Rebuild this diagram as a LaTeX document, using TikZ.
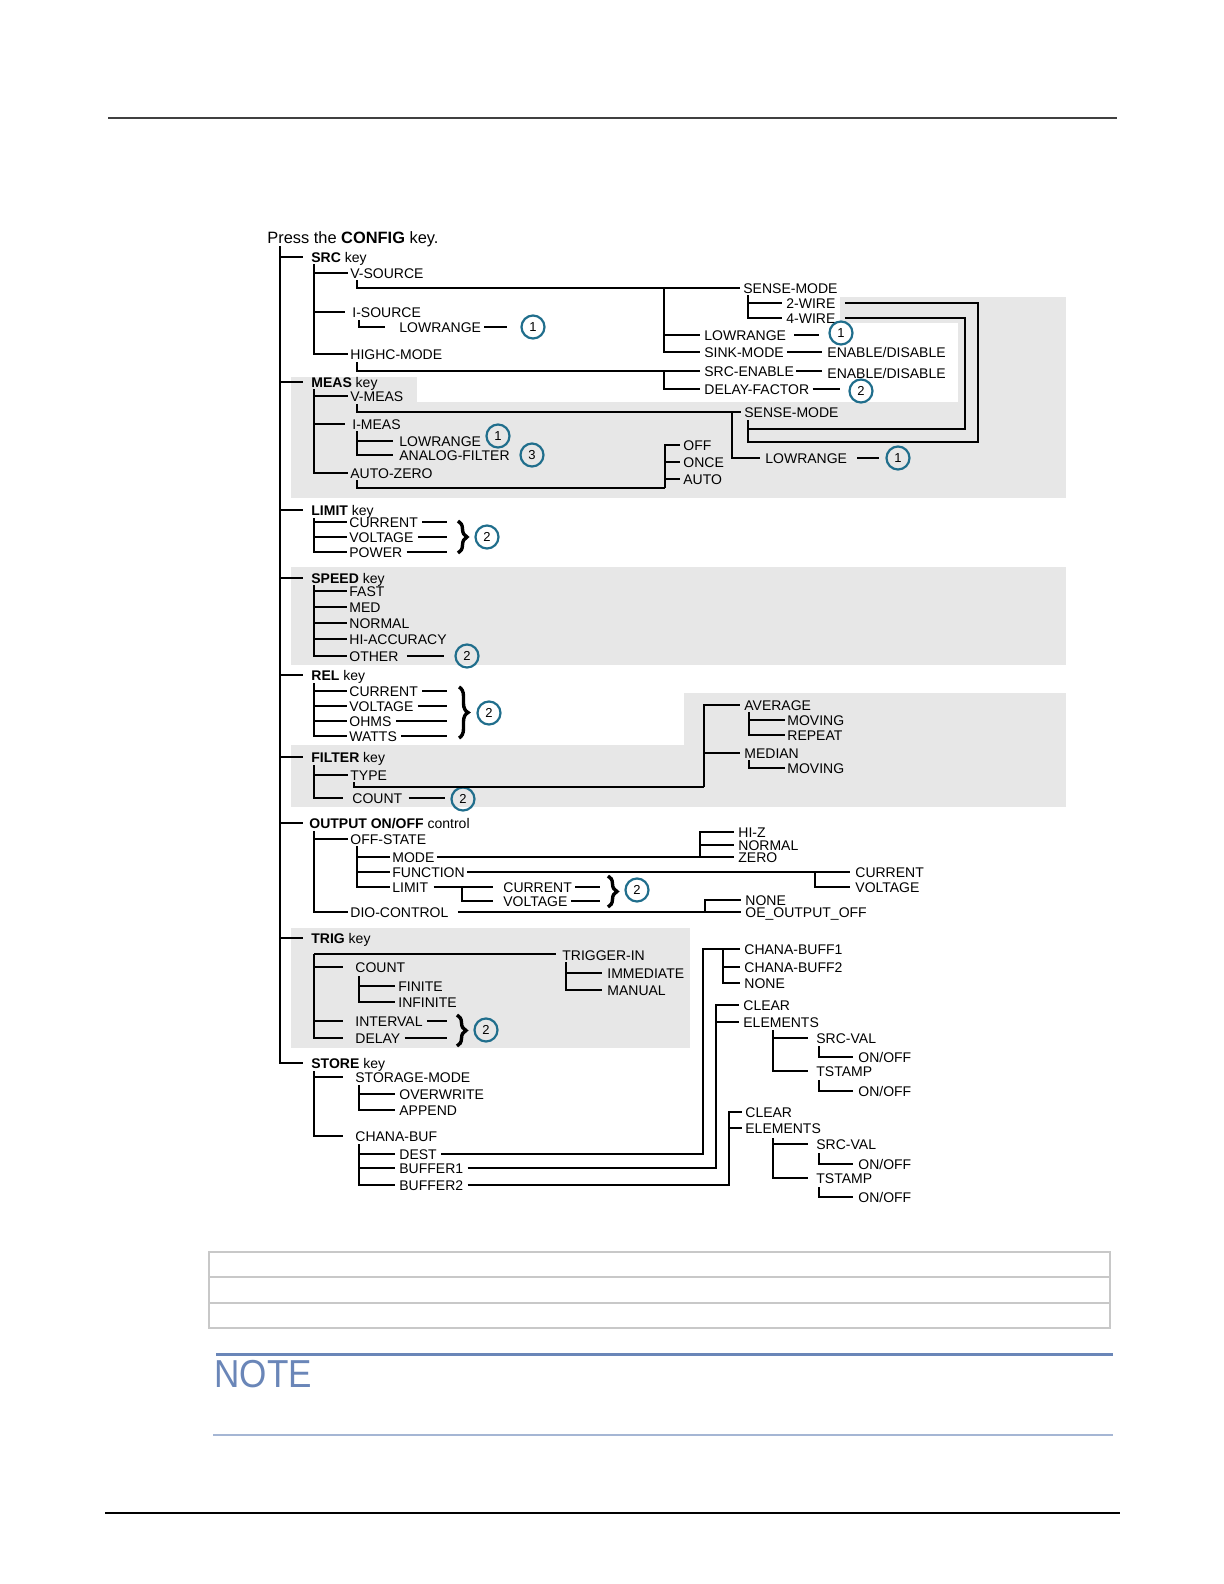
\documentclass[tikz,border=0pt]{standalone}
\usepackage{fontspec}
\setmainfont{Liberation Sans}
\usepackage{tikz}
\usetikzlibrary{calc}
\usetikzlibrary{decorations.pathreplacing}
\usetikzlibrary{positioning}

\definecolor{panelgray}{RGB}{231,231,231}
\definecolor{numblue}{RGB}{32,110,140}
\definecolor{noteblue}{RGB}{106,134,184}
\definecolor{rulegray}{RGB}{200,200,200}
\newcommand{\lbsize}{\fontsize{7}{8}\selectfont}

\begin{document}
\begin{tikzpicture}[x=0.5pt, y=-0.5pt,
  lbl/.style={anchor=west, inner sep=0pt, font=\lbsize, text height=5pt, text depth=0pt},
  num/.style={circle, draw=numblue, line width=1.1pt, minimum size=11.5pt, inner sep=0pt, font=\fontsize{6.5}{6.5}\selectfont},
  tree/.style={line width=0.7pt},
  br/.style={tree, shorten >=#1}, br/.default=1pt,
  gapln/.style 2 args={tree, shorten <=#1, shorten >=#2},
  thk/.style={line width=1pt},
  brc/.style={line width=1.7pt, decorate, decoration={brace, amplitude=4.5pt}}]
\useasboundingbox (0,0) rectangle (1224,1584);

%panels
\fill[panelgray] (291,377) rectangle (1066,498);
\fill[panelgray] (840,297) rectangle (1066,377);
\fill[white] (417,323) rectangle (958,402);
\fill[panelgray] (291,567) rectangle (1066,665);
\fill[panelgray] (291,745) rectangle (1066,807);
\fill[panelgray] (684,693) rectangle (1066,745);
\fill[panelgray] (291,928) rectangle (690,1048);

%page rules, table, note
\draw[line width=0.7pt, black!75] (108,118) -- (1117,118);
\draw[line width=1pt] (105,1513) -- (1120,1513);
\draw[rulegray, line width=0.8pt] (209,1252) rectangle (1110,1328);
\draw[rulegray, line width=0.8pt] (209,1277) -- (1110,1277);
\draw[rulegray, line width=0.8pt] (209,1303) -- (1110,1303);
\draw[noteblue, line width=1.5pt] (216,1354) -- (1113,1354);
\draw[noteblue!60, line width=0.7pt] (213,1435) -- (1113,1435);
\node[anchor=west, inner sep=0pt, text=noteblue, font=\fontsize{19.5}{20}\selectfont] (note) at (214,1374) {\scalebox{0.9}[1]{NOTE}};

%root
\node[lbl, font=\fontsize{8.2}{9}\selectfont, text height=5.9pt] (config) at (267,238) {Press the \textbf{CONFIG} key.};
\node[lbl] (srckey) at (311,257) {\textbf{SRC} key};
\node[lbl] (measkey) at (311,382) {\textbf{MEAS} key};
\node[lbl] (limkey) at (311,510) {\textbf{LIMIT} key};
\node[lbl] (spdkey) at (311,578) {\textbf{SPEED} key};
\node[lbl] (relkey) at (311,675) {\textbf{REL} key};
\node[lbl] (filkey) at (311,757) {\textbf{FILTER} key};
\node[lbl] (outkey) at (309,823) {\textbf{OUTPUT ON/OFF} control};
\node[lbl] (trigkey) at (311,938) {\textbf{TRIG} key};
\node[lbl] (storekey) at (311,1063) {\textbf{STORE} key};
\coordinate (root) at (280,246);
\foreach \k/\g in {srckey/4pt, measkey/4pt, limkey/4pt, spdkey/4pt, relkey/4pt, filkey/4pt, outkey/3pt, trigkey/4pt, storekey/4pt}
  \draw[br=\g] (root) |- (\k.west);

%SRC
\node[lbl] (vsrc) at (350,273) {V-SOURCE};
\node[lbl] (isrc) at (352,312) {I-SOURCE};
\node[lbl] (srclow) at (399,327) {LOWRANGE};
\node[num] (nsrclow) at (533,327) {1};
\node[lbl] (highc) at (350,354) {HIGHC-MODE};
\node[lbl] (vsense) at (743,288) {SENSE-MODE};
\node[lbl] (twow) at (786,303) {2-WIRE};
\node[lbl] (fourw) at (786,318) {4-WIRE};
\node[lbl] (vlow) at (704,335) {LOWRANGE};
\node[num] (nvlow) at (841,333) {1};
\node[lbl] (sink) at (704,352) {SINK-MODE};
\node[lbl] (sinkena) at (827,352) {ENABLE/DISABLE};
\node[lbl] (srcen) at (704,371) {SRC-ENABLE};
\node[lbl] (srcena) at (827,373) {ENABLE/DISABLE};
\node[lbl] (delay) at (704,389) {DELAY-FACTOR};
\node[num] (ndelay) at (861,391) {2};

\coordinate (tsrc) at (314,264);
\foreach \c/\g in {vsrc/1pt, isrc/3.5pt, highc/1pt}
  \draw[br=\g] (tsrc) |- (\c.west);
\coordinate (tisrc) at (359,320);
\draw[br=7pt] (tisrc) |- (srclow.west);
\draw[gapln={1.5pt}{6.5pt}] (srclow.east) -- (srclow.east -| nsrclow.west);
\coordinate (tvsrc) at (357,280);
\draw[br=1.5pt] (tvsrc) |- (vsense.west);
\coordinate (jvs) at (664,288);
\foreach \c in {vlow, sink}
  \draw[br=2pt] (jvs) |- (\c.west);
\coordinate (tvsense) at (748,295);
\foreach \c in {twow, fourw}
  \draw[br=2pt] (tvsense) |- (\c.west);
\draw[gapln={4pt}{4.5pt}] (vlow.east) -- (vlow.east -| nvlow.west);
\draw[gapln={1.5pt}{2.5pt}] (sink.east) -- (sinkena.west);
\coordinate (thighc) at (357,362);
\draw[br=2pt] (thighc) |- (srcen.west);
\coordinate (jhc) at (664,371);
\draw[br=2pt] (jhc) |- (delay.west);
\draw[gapln={1pt}{2.5pt}] (srcen.east) -- (srcen.east -| srcena.west);
\draw[gapln={1.5pt}{4pt}] (delay.east) -- (delay.east -| ndelay.west);

%MEAS
\node[lbl] (vmeas) at (350,396) {V-MEAS};
\node[lbl] (imeas) at (352,424) {I-MEAS};
\node[lbl] (ilow) at (399,441) {LOWRANGE};
\node[num] (nilow) at (498,436) {1};
\node[lbl] (afilt) at (399,455) {ANALOG-FILTER};
\node[num] (nafilt) at (532,455) {3};
\node[lbl] (autoz) at (350,473) {AUTO-ZERO};
\node[lbl] (msense) at (744,412) {SENSE-MODE};
\node[lbl] (mlow) at (765,458) {LOWRANGE};
\node[num] (nmlow) at (898,458) {1};
\node[lbl] (azoff) at (683,445) {OFF};
\node[lbl] (azonce) at (683,462) {ONCE};
\node[lbl] (azauto) at (683,479) {AUTO};

\coordinate (tmeas) at (314,389);
\foreach \c/\g in {vmeas/1pt, imeas/3.5pt, autoz/1pt}
  \draw[br=\g] (tmeas) |- (\c.west);
\coordinate (tvmeas) at (357,404);
\draw[br=1.5pt] (tvmeas) |- (msense.west);
\coordinate (jms) at (732,412);
\draw[br=2.5pt] (jms) |- (mlow.west);
\draw[gapln={5pt}{3pt}] (mlow.east) -- (mlow.east -| nmlow.west);
\coordinate (timeas) at (357,431);
\foreach \c in {ilow, afilt}
  \draw[br=3pt] (timeas) |- (\c.west);
\coordinate (tautoz) at (357,480);
\coordinate (jaz) at (665,488);
\draw[tree] (tautoz) |- (jaz);
\foreach \c in {azoff, azonce, azauto}
  \draw[br=1.5pt] (jaz) |- (\c.west);

%sense-mode loops
\coordinate (tmsense) at (748,420);
\coordinate (lp2) at (978,442);
\coordinate (lp4) at (965,429);
\draw[thk, shorten <=4.5pt] (twow.east) -- (twow.east -| lp2) -- (lp2) -- (lp2 -| tmsense) -- (tmsense);
\draw[thk, shorten <=4.5pt] (fourw.east) -- (fourw.east -| lp4) -- (lp4) -- (lp4 -| tmsense);

%LIMIT
\node[lbl] (lcur) at (349,522) {CURRENT};
\node[lbl] (lvolt) at (349,537) {VOLTAGE};
\node[lbl] (lpow) at (349,552) {POWER};
\node[num] (nlim) at (487,537) {2};
\coordinate (tlim) at (314,518);
\coordinate (limend) at (447,537);
\foreach \c in {lcur, lvolt, lpow} {
  \draw[br] (tlim) |- (\c.west);
  \draw[gapln={2pt}{0pt}] (\c.east) -- (\c.east -| limend);
}
\draw[brc] (458,521) -- (458,553);

%SPEED
\foreach \n/\t/\y in {sfast/FAST/591, smed/MED/607, snorm/NORMAL/623, shiacc/HI-ACCURACY/639, sother/OTHER/656}
  \node[lbl] (\n) at (349,\y) {\t};
\node[num] (nother) at (467,656) {2};
\coordinate (tspd) at (314,585);
\foreach \c in {sfast, smed, snorm, shiacc, sother}
  \draw[br] (tspd) |- (\c.west);
\draw[gapln={4pt}{5pt}] (sother.east) -- (sother.east -| nother.west);

%REL
\foreach \n/\t/\y in {rcur/CURRENT/691, rvolt/VOLTAGE/706, rohm/OHMS/721, rwatt/WATTS/736}
  \node[lbl] (\n) at (349,\y) {\t};
\node[num] (nrel) at (489,713) {2};
\coordinate (trel) at (314,683);
\coordinate (relend) at (447,713);
\foreach \c in {rcur, rvolt, rohm, rwatt} {
  \draw[br] (trel) |- (\c.west);
  \draw[gapln={2pt}{0pt}] (\c.east) -- (\c.east -| relend);
}
\draw[brc] (459,687) -- (459,738);

%FILTER
\node[lbl] (ftype) at (350,775) {TYPE};
\node[lbl] (fcount) at (352,798) {COUNT};
\node[num] (nfcount) at (463,799) {2};
\node[lbl] (favg) at (744,705) {AVERAGE};
\node[lbl] (fmov1) at (787,720) {MOVING};
\node[lbl] (frep) at (787,735) {REPEAT};
\node[lbl] (fmed) at (744,753) {MEDIAN};
\node[lbl] (fmov2) at (787,768) {MOVING};
\coordinate (tfil) at (314,765);
\draw[br] (tfil) |- (ftype.west);
\draw[br=4.5pt] (tfil) |- (fcount.west);
\coordinate (tftype) at (354,782);
\coordinate (jft) at (704,787);
\draw[tree] (tftype) |- (jft);
\foreach \c in {favg, fmed}
  \draw[br=2pt] (jft) |- (\c.west);
\coordinate (tfavg) at (749,712);
\foreach \c in {fmov1, frep}
  \draw[br] (tfavg) |- (\c.west);
\coordinate (tfmed) at (749,760);
\draw[br] (tfmed) |- (fmov2.west);
\draw[gapln={3pt}{2.5pt}] (fcount.east) -- (fcount.east -| nfcount.west);

%OUTPUT
\node[lbl] (ooff) at (350,839) {OFF-STATE};
\node[lbl] (odio) at (350,912) {DIO-CONTROL};
\node[lbl] (omode) at (392,857) {MODE};
\node[lbl] (ofunc) at (392,872) {FUNCTION};
\node[lbl] (olim) at (392,887) {LIMIT};
\node[lbl] (ohiz) at (738,832) {HI-Z};
\node[lbl] (onorm) at (738,845) {NORMAL};
\node[lbl] (ozero) at (738,857) {ZERO};
\node[lbl] (ocur) at (855,872) {CURRENT};
\node[lbl] (ovolt) at (855,887) {VOLTAGE};
\node[lbl] (olcur) at (503,887) {CURRENT};
\node[lbl] (olvolt) at (503,901) {VOLTAGE};
\node[num] (nolim) at (637,890) {2};
\node[lbl] (onone) at (745,900) {NONE};
\node[lbl] (ooe) at (745,912) {OE\_OUTPUT\_OFF};
\coordinate (tout) at (314,831);
\foreach \c in {ooff, odio}
  \draw[br] (tout) |- (\c.west);
\coordinate (tooff) at (357,846);
\foreach \c in {omode, ofunc, olim}
  \draw[br] (tooff) |- (\c.west);
\coordinate (jmode) at (700,857);
\draw[thk, shorten <=1pt] (omode.east) -- (jmode);
\foreach \c in {ohiz, onorm, ozero}
  \draw[br=2pt] (jmode) |- (\c.west);
\coordinate (jfunc) at (815,872);
\draw[tree, shorten <=1pt] (ofunc.east) -- (jfunc);
\foreach \c in {ocur, ovolt}
  \draw[br=2.5pt] (jfunc) |- (\c.west);
\coordinate (jolim) at (462,887);
\draw[gapln={2.5pt}{5pt}] (olim.east) -- (olcur.west);
\draw[br=5pt] (jolim) |- (olvolt.west);
\coordinate (olend) at (600,894);
\foreach \c in {olcur, olvolt}
  \draw[gapln={1.5pt}{0pt}] (\c.east) -- (\c.east -| olend);
\draw[brc] (608,876) -- (608,907);
\coordinate (jdio) at (705,912);
\draw[thk, shorten <=4.5pt] (odio.east) -- (jdio);
\draw[br=2pt] (jdio) |- (onone.west);
\draw[br=2pt] (jdio) -- (ooe.west);

%TRIG
\node[lbl] (ttrigin) at (562,955) {TRIGGER-IN};
\node[lbl] (timm) at (607,973) {IMMEDIATE};
\node[lbl] (tman) at (607,990) {MANUAL};
\node[lbl] (tcount) at (355,967) {COUNT};
\node[lbl] (tfin) at (398,986) {FINITE};
\node[lbl] (tinf) at (398,1002) {INFINITE};
\node[lbl] (tint) at (355,1021) {INTERVAL};
\node[lbl] (tdel) at (355,1038) {DELAY};
\node[num] (ntrig) at (486,1030) {2};
\coordinate (ttrig) at (314,954);
\draw[tree, shorten >=3pt] (ttrig) -- (ttrig -| ttrigin.west);
\foreach \c in {tcount, tint, tdel}
  \draw[br=6pt] (ttrig) |- (\c.west);
\coordinate (ttcount) at (359,976);
\foreach \c in {tfin, tinf}
  \draw[br=1.5pt] (ttcount) |- (\c.west);
\coordinate (tttrigin) at (566,962);
\foreach \c in {timm, tman}
  \draw[br=2.5pt] (tttrigin) |- (\c.west);
\coordinate (trigend) at (447,1030);
\foreach \c in {tint, tdel}
  \draw[gapln={2pt}{0pt}] (\c.east) -- (\c.east -| trigend);
\draw[brc] (457,1015) -- (457,1046);

%STORE
\node[lbl] (smode) at (355,1077) {STORAGE-MODE};
\node[lbl] (sover) at (399,1094) {OVERWRITE};
\node[lbl] (sapp) at (399,1110) {APPEND};
\node[lbl] (sbuf) at (355,1136) {CHANA-BUF};
\node[lbl] (sdest) at (399,1154) {DEST};
\node[lbl] (sbuf1) at (399,1168) {BUFFER1};
\node[lbl] (sbuf2) at (399,1185) {BUFFER2};
\node[lbl] (chb1) at (744,949) {CHANA-BUFF1};
\node[lbl] (chb2) at (744,967) {CHANA-BUFF2};
\node[lbl] (chnone) at (744,983) {NONE};
\node[lbl] (clr1) at (743,1005) {CLEAR};
\node[lbl] (elm1) at (743,1022) {ELEMENTS};
\node[lbl] (sv1) at (816,1038) {SRC-VAL};
\node[lbl] (on1) at (858,1057) {ON/OFF};
\node[lbl] (ts1) at (816,1071) {TSTAMP};
\node[lbl] (on2) at (858,1091) {ON/OFF};
\node[lbl] (clr2) at (745,1112) {CLEAR};
\node[lbl] (elm2) at (745,1128) {ELEMENTS};
\node[lbl] (sv2) at (816,1144) {SRC-VAL};
\node[lbl] (on3) at (858,1164) {ON/OFF};
\node[lbl] (ts2) at (816,1178) {TSTAMP};
\node[lbl] (on4) at (858,1197) {ON/OFF};
\coordinate (tsto) at (314,1071);
\foreach \c in {smode, sbuf}
  \draw[br=6pt] (tsto) |- (\c.west);
\coordinate (tsmode) at (359,1085);
\foreach \c in {sover, sapp}
  \draw[br=2pt] (tsmode) |- (\c.west);
\coordinate (tsbuf) at (359,1144);
\foreach \c in {sdest, sbuf1, sbuf2}
  \draw[br=2pt] (tsbuf) |- (\c.west);
\coordinate (jdest) at (703,949);
\draw[gapln={2pt}{2pt}] (sdest.east) -| (jdest) -- (chb1.west);
\coordinate (jchb) at (723,949);
\foreach \c in {chb2, chnone}
  \draw[br=2pt] (jchb) |- (\c.west);
\coordinate (jbuf1) at (716,1005);
\draw[gapln={2pt}{2pt}] (sbuf1.east) -| (jbuf1) -- (clr1.west);
\draw[br=2pt] (jbuf1) |- (elm1.west);
\coordinate (te1) at (773,1030);
\foreach \c in {sv1, ts1}
  \draw[br=4pt] (te1) |- (\c.west);
\coordinate (tsv1) at (819,1046);
\draw[br=2.5pt] (tsv1) |- (on1.west);
\coordinate (tts1) at (819,1080);
\draw[br=2.5pt] (tts1) |- (on2.west);
\coordinate (jbuf2) at (729,1112);
\draw[gapln={2pt}{1.5pt}] (sbuf2.east) -| (jbuf2) -- (clr2.west);
\draw[br=1.5pt] (jbuf2) |- (elm2.west);
\coordinate (te2) at (773,1138);
\foreach \c in {sv2, ts2}
  \draw[br=4pt] (te2) |- (\c.west);
\coordinate (tsv2) at (819,1153);
\draw[br=2.5pt] (tsv2) |- (on3.west);
\coordinate (tts2) at (819,1187);
\draw[br=2.5pt] (tts2) |- (on4.west);
\end{tikzpicture}
\end{document}
